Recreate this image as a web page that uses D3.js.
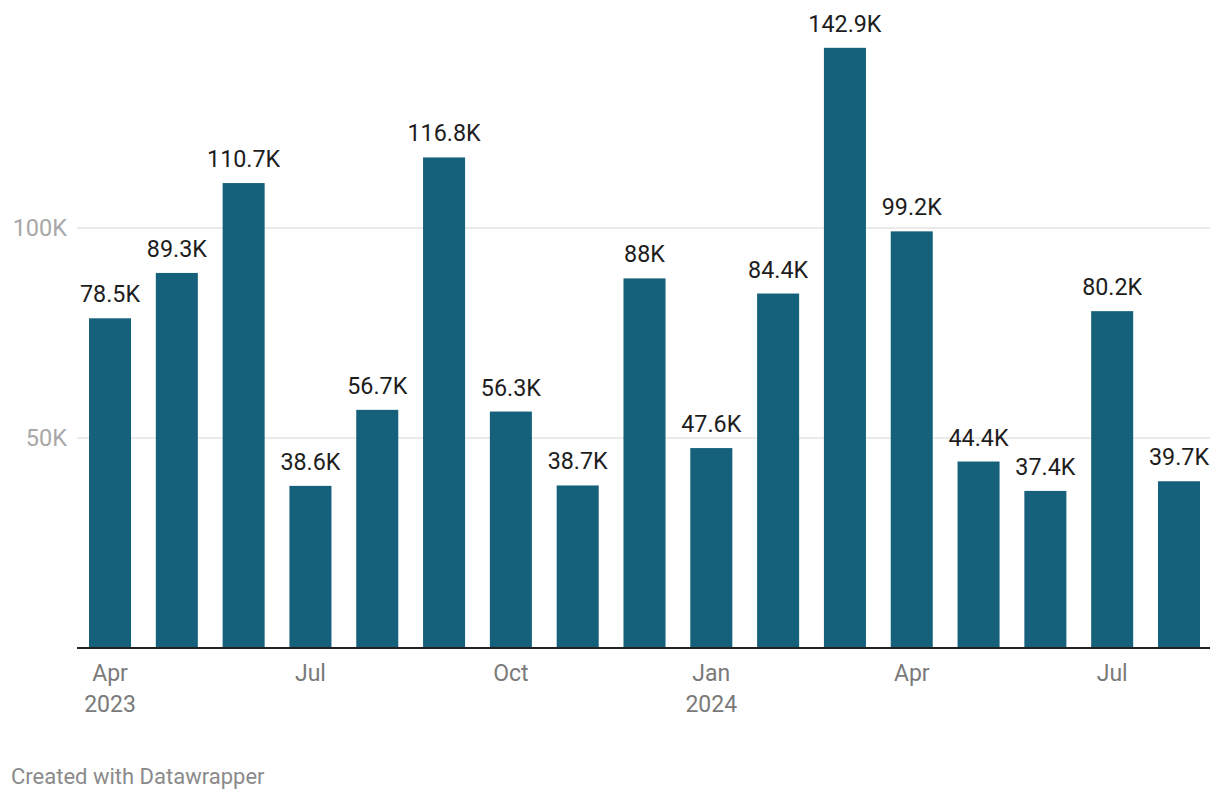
<!DOCTYPE html>
<html><head><meta charset="utf-8">
<script src="https://cdn.jsdelivr.net/npm/d3@7"></script>
<style>body{margin:0;background:#fff;}svg{display:block;font-family:Roboto,sans-serif;}</style>
</head><body>
<svg id="c" width="1220" height="800"></svg>
<script>
const months = ["2023-04","2023-05","2023-06","2023-07","2023-08","2023-09","2023-10","2023-11","2023-12","2024-01","2024-02","2024-03","2024-04","2024-05","2024-06","2024-07","2024-08"];
const values = [78.5,89.3,110.7,38.6,56.7,116.8,56.3,38.7,88,47.6,84.4,142.9,99.2,44.4,37.4,80.2,39.7];
const yTicks = [50,100];
const xTickLabels = {"2023-04":["Apr","2023"],"2023-07":["Jul"],"2023-10":["Oct"],"2024-01":["Jan","2024"],"2024-04":["Apr"],"2024-07":["Jul"]};

const svg = d3.select("#c");
const x = d3.scaleBand().domain(months).range([89,1200]).paddingInner(0.371).paddingOuter(0);
const y = d3.scaleLinear().domain([0,150]).range([648,18]);

// gridlines
svg.append("g").selectAll("line").data(yTicks).join("line")
  .attr("x1",77).attr("x2",1210).attr("y1",d=>y(d)).attr("y2",d=>y(d))
  .attr("stroke","#e3e3e3").attr("stroke-width",1.5);
svg.append("g").selectAll("text").data(yTicks).join("text")
  .attr("x",67).attr("y",d=>y(d)+8).attr("text-anchor","end")
  .attr("font-size",23.5).attr("fill","#a8a8a8").text(d=>d+"K");

// bars
svg.append("g").selectAll("rect").data(values).join("rect")
  .attr("x",(d,i)=>x(months[i])).attr("width",x.bandwidth())
  .attr("y",d=>y(d)).attr("height",d=>y(0)-y(d)).attr("fill","#15607a");

// value labels
const fmt = v => (Math.round(v*10)/10).toString()+"K";
svg.append("g").selectAll("text").data(values).join("text")
  .attr("x",(d,i)=>x(months[i])+x.bandwidth()/2).attr("y",d=>y(d)-16)
  .attr("text-anchor","middle").attr("font-size",23.3).attr("fill","#1d1d1d").text(fmt);

// baseline
svg.append("line").attr("x1",77).attr("x2",1210).attr("y1",y(0)).attr("y2",y(0))
  .attr("stroke","#222").attr("stroke-width",2);

// x axis labels
const xl = svg.append("g");
Object.entries(xTickLabels).forEach(([m,lines])=>{
  const t = xl.append("text").attr("x",x(m)+x.bandwidth()/2).attr("y",681)
    .attr("text-anchor","middle").attr("font-size",23).attr("fill","#7a7a7a");
  lines.forEach((l,i)=>t.append("tspan").attr("x",x(m)+x.bandwidth()/2).attr("dy",i?31:0).text(l));
});

// footer
svg.append("text").attr("x",11).attr("y",784).attr("font-size",22).attr("fill","#8a8a8a").text("Created with Datawrapper");
</script>
</body></html>
